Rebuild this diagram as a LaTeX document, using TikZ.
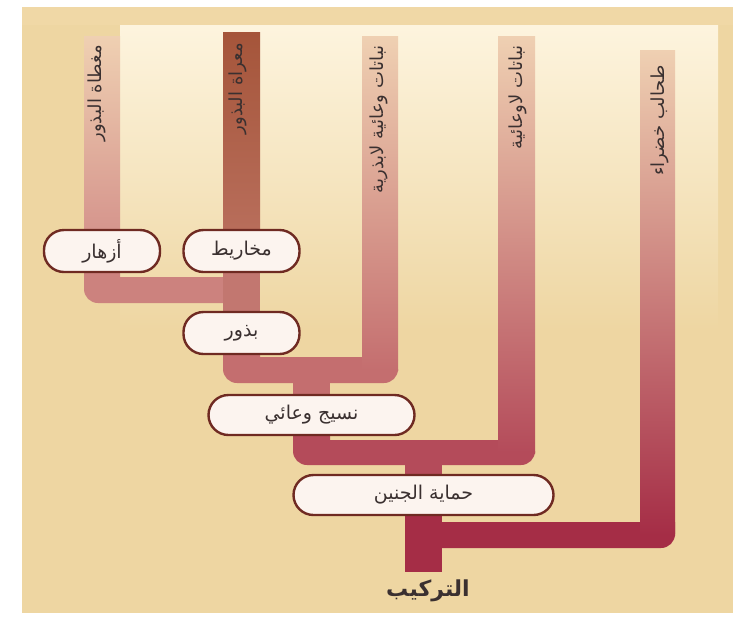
\documentclass[tikz,border=0pt]{standalone}
\usepackage{fontspec}
\newfontfamily\arabicfont[Script=Arabic]{DejaVu Sans}
\TeXXeTstate=1
\usetikzlibrary{calc}
\pgfdeclarelayer{bg}
\pgfdeclarelayer{bars}
\pgfsetlayers{bg,bars,main}
\newcommand{\artext}[1]{{\arabicfont\beginR #1\endR}}
\definecolor{bgTan}{HTML}{EED6A2}
\definecolor{frameTan}{HTML}{F0D8A6}
\definecolor{panelTop}{HTML}{FDF4DE}
\definecolor{nodeFill}{HTML}{FCF4EF}
\definecolor{nodeBorder}{HTML}{6F2A22}
\definecolor{txt}{HTML}{3A3030}
\definecolor{fadeTop}{HTML}{EFD0B2}
\definecolor{angioMid}{HTML}{D38F89}
\definecolor{colA}{HTML}{CC827E}
\definecolor{gymTop}{HTML}{A5553A}
\definecolor{gymMid}{HTML}{BA705E}
\definecolor{colGym}{HTML}{C27770}
\definecolor{colB}{HTML}{C46E6F}
\definecolor{colC}{HTML}{B44B5A}
\definecolor{colD}{HTML}{A52D46}
\begin{document}
\begin{tikzpicture}[x=1pt,y=-1pt,
  clade/.style={draw=nodeBorder, line width=2.4pt, fill=nodeFill, rounded corners=20pt,
    text=txt, font=\arabicfont\fontsize{19}{21}\selectfont, inner sep=0pt, minimum height=42pt},
  vlabel/.style={rotate=90, anchor=east, text=txt, inner sep=0pt,
    font=\arabicfont\fontsize{18}{20}\selectfont}]
\useasboundingbox (0,0) rectangle (743,619);
% background
\begin{pgfonlayer}{bg}
  \fill[white] (0,0) rectangle (743,619);
  \fill[bgTan] (22,7) rectangle (733,613);
  \fill[frameTan] (22,7) rectangle (733,25);
  \shade[top color=panelTop, bottom color=bgTan] (120,25) rectangle (718,330);
\end{pgfonlayer}
% key points
\coordinate (aTop) at (102,36);
\coordinate (gTop) at (241.5,32);
\coordinate (sTop) at (380,36);
\coordinate (nTop) at (516.5,36);
\coordinate (alTop) at (657.5,50);
\coordinate (hA) at (241.5,290);
\coordinate (hB) at (380,370);
\coordinate (hC) at (516.5,452.5);
\coordinate (hD) at (657.5,535);
\coordinate (root) at (423.5,572);
% nodes
\node[clade, minimum width=116pt] (flowers) at (102,251) {\artext{أزهار}};
\node[clade, minimum width=116pt] (cones) at (241.5,251) {\artext{مخاريط}};
\node[clade, minimum width=116pt] (seeds) at (241.5,333) {\artext{بذور}};
\node[clade, minimum width=206pt, minimum height=40pt] (vasc) at (311.5,415) {\artext{نسيج وعائي}};
\node[clade, minimum width=260pt, minimum height=40pt] (embryo) at (423.5,495) {\artext{حماية الجنين}};
\node[text=txt, font=\arabicfont\bfseries\fontsize{22}{24}\selectfont, anchor=north] (struct) at (428,576) {\artext{التركيب}};
% leaf labels
\node[vlabel] (angioL) at (97,45) {\artext{مغطاة البذور}};
\node[vlabel] (gymL) at (238,43) {\artext{معراة البذور}};
\node[vlabel] (seedlessL) at (379,45) {\artext{نباتات وعائية لابذرية}};
\node[vlabel] (nonvascL) at (518,45) {\artext{نباتات لاوعائية}};
\node[vlabel] (algaeL) at (660,65) {\artext{طحالب خضراء}};
% bars
\begin{pgfonlayer}{bars}
  % angiosperm branch and its join with gymnosperms
  \fill[colA] ($(flowers.center)+(-18,0)$) [rounded corners=14pt] |- ($(hA)+(0,13)$) [sharp corners] -- ($(hA)+(0,-13)$) -| ($(flowers.center)+(18,0)$) -- cycle;
  \shade[top color=fadeTop, bottom color=angioMid] ($(aTop)+(-18,0)$) rectangle ($(flowers.center)+(18,0)$);
  \fill[colGym] ($(cones.center)+(-18.5,0)$) rectangle ($(seeds.center)+(18.5,0)$);
  \shade[top color=gymTop, bottom color=gymMid] ($(gTop)+(-18.5,0)$) rectangle ($(cones.center)+(18.5,0)$);
  % seeds join with seedless vascular plants
  \fill[colB] ($(seeds.center)+(-18.5,0)$) [rounded corners=14pt] |- ($(hB)+(18,13)$) -- ($(hB)+(18,-13)$) [sharp corners] -- ($(seeds.center |- hB)+(18.5,-13)$) -- ($(seeds.center)+(18.5,0)$) -- cycle;
  \shade[top color=fadeTop, bottom color=colB] ($(sTop)+(-18,0)$) rectangle ($(hB)+(18,0)$);
  \fill[colB] ($(vasc.center)+(-18.5,0)$) rectangle ($(vasc.center |- hB)+(18.5,0)$);
  % vascular tissue join with nonvascular plants
  \fill[colC] ($(vasc.center)+(-18.5,0)$) [rounded corners=14pt] |- ($(hC)+(18.5,12.5)$) -- ($(hC)+(18.5,-12.5)$) [sharp corners] -- ($(vasc.center |- hC)+(18.5,-12.5)$) -- ($(vasc.center)+(18.5,0)$) -- cycle;
  \shade[top color=fadeTop, bottom color=colC] ($(nTop)+(-18.5,0)$) rectangle ($(hC)+(18.5,0)$);
  \fill[colC] ($(embryo.center)+(-18.5,0)$) rectangle ($(embryo.center |- hC)+(18.5,0)$);
  % embryo protection join with green algae, root
  \fill[colD] ($(embryo.center)+(-18.5,0)$) rectangle ($(root)+(18.5,0)$);
  \fill[colD] ($(embryo.center |- hD)+(0,-13)$) -- ($(hD)+(17.5,-13)$) [rounded corners=14pt] -- ($(hD)+(17.5,13)$) [sharp corners] -- ($(embryo.center |- hD)+(0,13)$) -- cycle;
  \shade[top color=fadeTop, bottom color=colD] ($(alTop)+(-17.5,0)$) rectangle ($(hD)+(17.5,0)$);
\end{pgfonlayer}
\end{tikzpicture}
\end{document}
